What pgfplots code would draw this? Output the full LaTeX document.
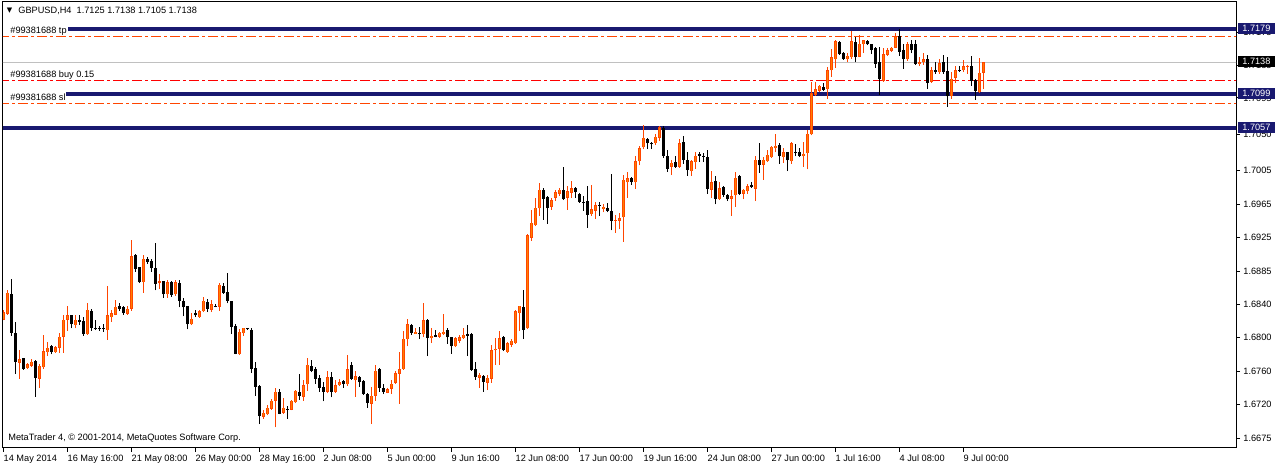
\documentclass[border=0pt]{standalone}
\usepackage{fontspec}
\setmainfont{Liberation Sans}
\newfontfamily\symfont{DejaVu Sans}
\usepackage{pgfplots}
\usepackage{pgfplotstable}
\pgfplotsset{compat=1.18}

\definecolor{navyline}{HTML}{191970}
\definecolor{upedge}{HTML}{FF4500}
\definecolor{upfill}{HTML}{FF8000}
\definecolor{tpsl}{HTML}{FF4500}
\definecolor{bidline}{HTML}{C0C0C0}

\newcommand{\mt}{\fontsize{4.6pt}{5.5pt}\selectfont}
% picture is 638x232pt, 1 screen pixel = 0.5pt
\newcommand{\px}[2]{({#1*0.5},{232-#2*0.5})}

% GBPUSD H4 candles, i = bar index
\pgfplotstableread{
i o h l c
0 1.6821 1.6833 1.6820 1.6830
1 1.6828 1.6857 1.6827 1.6854
2 1.6852 1.6871 1.6801 1.6805
3 1.6804 1.6818 1.6754 1.6769
4 1.6768 1.6783 1.6748 1.6772
5 1.6774 1.6774 1.6759 1.6760
6 1.6761 1.6768 1.6760 1.6766
7 1.6764 1.6772 1.6763 1.6769
8 1.6770 1.6771 1.6726 1.6749
9 1.6748 1.6766 1.6737 1.6764
10 1.6762 1.6802 1.6760 1.6782
11 1.6781 1.6793 1.6776 1.6786
12 1.6788 1.6790 1.6778 1.6781
13 1.6781 1.6788 1.6780 1.6787
14 1.6786 1.6804 1.6780 1.6800
15 1.6800 1.6827 1.6780 1.6821
16 1.6821 1.6838 1.6807 1.6826
17 1.6826 1.6827 1.6810 1.6815
18 1.6814 1.6826 1.6810 1.6821
19 1.6820 1.6826 1.6814 1.6818
20 1.6819 1.6824 1.6801 1.6803
21 1.6803 1.6841 1.6802 1.6833
22 1.6831 1.6834 1.6807 1.6811
23 1.6811 1.6821 1.6808 1.6809
24 1.6811 1.6813 1.6807 1.6810
25 1.6811 1.6816 1.6806 1.6810
26 1.6808 1.6862 1.6796 1.6826
27 1.6824 1.6833 1.6818 1.6829
28 1.6827 1.6845 1.6826 1.6837
29 1.6838 1.6841 1.6832 1.6834
30 1.6836 1.6838 1.6827 1.6829
31 1.6828 1.6838 1.6827 1.6834
32 1.6834 1.6919 1.6832 1.6899
33 1.6901 1.6902 1.6880 1.6883
34 1.6886 1.6886 1.6866 1.6867
35 1.6867 1.6901 1.6854 1.6896
36 1.6896 1.6898 1.6890 1.6892
37 1.6893 1.6896 1.6880 1.6884
38 1.6884 1.6915 1.6857 1.6865
39 1.6866 1.6877 1.6859 1.6868
40 1.6868 1.6869 1.6848 1.6852
41 1.6852 1.6870 1.6848 1.6867
42 1.6867 1.6868 1.6849 1.6851
43 1.6852 1.6870 1.6850 1.6867
44 1.6866 1.6870 1.6836 1.6844
45 1.6844 1.6847 1.6825 1.6836
46 1.6838 1.6838 1.6809 1.6815
47 1.6815 1.6829 1.6814 1.6822
48 1.6829 1.6833 1.6824 1.6826
49 1.6824 1.6833 1.6823 1.6831
50 1.6831 1.6849 1.6830 1.6844
51 1.6843 1.6846 1.6830 1.6834
52 1.6833 1.6845 1.6830 1.6840
53 1.6838 1.6840 1.6836 1.6837
54 1.6837 1.6866 1.6832 1.6864
55 1.6862 1.6866 1.6853 1.6854
56 1.6855 1.6878 1.6841 1.6844
57 1.6844 1.6844 1.6803 1.6812
58 1.6813 1.6815 1.6778 1.6779
59 1.6778 1.6809 1.6777 1.6806
60 1.6804 1.6811 1.6801 1.6811
61 1.6810 1.6811 1.6808 1.6809
62 1.6808 1.6810 1.6755 1.6760
63 1.6761 1.6769 1.6727 1.6738
64 1.6739 1.6740 1.6692 1.6702
65 1.6701 1.6709 1.6699 1.6706
66 1.6704 1.6716 1.6703 1.6712
67 1.6711 1.6723 1.6710 1.6721
68 1.6721 1.6737 1.6688 1.6732
69 1.6732 1.6736 1.6704 1.6705
70 1.6706 1.6724 1.6705 1.6712
71 1.6711 1.6715 1.6699 1.6710
72 1.6710 1.6722 1.6709 1.6721
73 1.6719 1.6734 1.6718 1.6733
74 1.6732 1.6754 1.6722 1.6727
75 1.6726 1.6746 1.6721 1.6740
76 1.6741 1.6774 1.6733 1.6765
77 1.6764 1.6771 1.6756 1.6758
78 1.6760 1.6763 1.6742 1.6748
79 1.6749 1.6753 1.6732 1.6737
80 1.6738 1.6744 1.6720 1.6732
81 1.6732 1.6758 1.6730 1.6750
82 1.6750 1.6756 1.6725 1.6732
83 1.6732 1.6746 1.6731 1.6740
84 1.6740 1.6748 1.6739 1.6744
85 1.6745 1.6746 1.6737 1.6742
86 1.6741 1.6777 1.6739 1.6760
87 1.6765 1.6769 1.6747 1.6748
88 1.6746 1.6758 1.6726 1.6751
89 1.6750 1.6752 1.6738 1.6744
90 1.6745 1.6747 1.6728 1.6729
91 1.6729 1.6730 1.6712 1.6718
92 1.6717 1.6738 1.6692 1.6727
93 1.6727 1.6765 1.6721 1.6758
94 1.6760 1.6761 1.6732 1.6737
95 1.6737 1.6742 1.6729 1.6732
96 1.6731 1.6737 1.6730 1.6735
97 1.6736 1.6747 1.6729 1.6742
98 1.6743 1.6758 1.6742 1.6755
99 1.6754 1.6781 1.6717 1.6760
100 1.6760 1.6807 1.6759 1.6797
101 1.6797 1.6822 1.6788 1.6815
102 1.6814 1.6815 1.6802 1.6805
103 1.6803 1.6811 1.6803 1.6806
104 1.6804 1.6812 1.6797 1.6803
105 1.6803 1.6841 1.6799 1.6820
106 1.6821 1.6822 1.6776 1.6798
107 1.6798 1.6810 1.6792 1.6801
108 1.6802 1.6808 1.6799 1.6800
109 1.6800 1.6806 1.6798 1.6805
110 1.6803 1.6828 1.6802 1.6806
111 1.6808 1.6811 1.6791 1.6799
112 1.6799 1.6800 1.6779 1.6788
113 1.6788 1.6799 1.6787 1.6798
114 1.6795 1.6802 1.6792 1.6799
115 1.6798 1.6811 1.6797 1.6802
116 1.6803 1.6814 1.6776 1.6801
117 1.6803 1.6804 1.6758 1.6759
118 1.6760 1.6769 1.6747 1.6750
119 1.6749 1.6755 1.6737 1.6753
120 1.6751 1.6753 1.6732 1.6744
121 1.6743 1.6753 1.6734 1.6749
122 1.6748 1.6789 1.6743 1.6783
123 1.6783 1.6798 1.6765 1.6785
124 1.6785 1.6807 1.6765 1.6798
125 1.6799 1.6801 1.6782 1.6783
126 1.6781 1.6793 1.6780 1.6792
127 1.6790 1.6797 1.6787 1.6795
128 1.6792 1.6833 1.6791 1.6831
129 1.6829 1.6838 1.6807 1.6838
130 1.6836 1.6857 1.6797 1.6808
131 1.6810 1.6927 1.6809 1.6925
132 1.6922 1.6956 1.6918 1.6940
133 1.6937 1.6971 1.6936 1.6959
134 1.6958 1.6989 1.6949 1.6981
135 1.6981 1.6983 1.6944 1.6970
136 1.6972 1.6973 1.6939 1.6958
137 1.6960 1.6971 1.6956 1.6968
138 1.6971 1.6980 1.6967 1.6978
139 1.6976 1.6983 1.6973 1.6981
140 1.6981 1.7009 1.6968 1.6969
141 1.6971 1.6986 1.6956 1.6979
142 1.6977 1.6992 1.6971 1.6983
143 1.6983 1.6984 1.6971 1.6978
144 1.6976 1.6977 1.6965 1.6966
145 1.6966 1.6973 1.6955 1.6965
146 1.6967 1.6985 1.6934 1.6950
147 1.6951 1.6987 1.6949 1.6957
148 1.6955 1.6966 1.6945 1.6962
149 1.6962 1.6966 1.6949 1.6961
150 1.6957 1.6963 1.6953 1.6960
151 1.6959 1.6964 1.6953 1.6955
152 1.6955 1.7000 1.6931 1.6943
153 1.6943 1.6950 1.6928 1.6944
154 1.6943 1.6952 1.6932 1.6946
155 1.6947 1.6999 1.6917 1.6993
156 1.6990 1.7003 1.6971 1.6995
157 1.6995 1.6997 1.6987 1.6991
158 1.6990 1.7023 1.6982 1.7016
159 1.7016 1.7035 1.7011 1.7032
160 1.7033 1.7061 1.7031 1.7045
161 1.7043 1.7045 1.7031 1.7038
162 1.7038 1.7040 1.7031 1.7037
163 1.7038 1.7049 1.7036 1.7046
164 1.7045 1.7059 1.7041 1.7058
165 1.7057 1.7060 1.7020 1.7023
166 1.7022 1.7030 1.7003 1.7007
167 1.7009 1.7017 1.6999 1.7014
168 1.7015 1.7022 1.7008 1.7009
169 1.7009 1.7044 1.7008 1.7038
170 1.7040 1.7047 1.7013 1.7018
171 1.7018 1.7027 1.6998 1.7005
172 1.7004 1.7018 1.6998 1.7016
173 1.7015 1.7027 1.7007 1.7023
174 1.7025 1.7028 1.7015 1.7023
175 1.7022 1.7026 1.7015 1.7021
176 1.7021 1.7030 1.6976 1.6982
177 1.6981 1.7004 1.6971 1.6990
178 1.6992 1.6998 1.6963 1.6970
179 1.6969 1.6990 1.6968 1.6983
180 1.6984 1.6985 1.6972 1.6975
181 1.6975 1.6976 1.6967 1.6969
182 1.6970 1.6981 1.6949 1.6973
183 1.6974 1.7003 1.6960 1.6996
184 1.6998 1.6999 1.6975 1.6976
185 1.6976 1.6982 1.6969 1.6981
186 1.6979 1.6988 1.6976 1.6985
187 1.6987 1.6990 1.6983 1.6984
188 1.6982 1.7022 1.6967 1.7018
189 1.7018 1.7039 1.7002 1.7011
190 1.7012 1.7021 1.6993 1.7018
191 1.7016 1.7030 1.7015 1.7024
192 1.7021 1.7035 1.7020 1.7034
193 1.7032 1.7050 1.7027 1.7035
194 1.7036 1.7039 1.7013 1.7022
195 1.7021 1.7032 1.7014 1.7027
196 1.7027 1.7028 1.7004 1.7017
197 1.7016 1.7040 1.7013 1.7038
198 1.7027 1.7037 1.7022 1.7026
199 1.7027 1.7032 1.7021 1.7023
200 1.7022 1.7040 1.7009 1.7025
201 1.7026 1.7055 1.7006 1.7050
202 1.7049 1.7114 1.7048 1.7100
203 1.7098 1.7114 1.7097 1.7105
204 1.7103 1.7110 1.7101 1.7109
205 1.7108 1.7113 1.7103 1.7104
206 1.7105 1.7132 1.7093 1.7128
207 1.7128 1.7154 1.7120 1.7144
208 1.7142 1.7165 1.7131 1.7164
209 1.7163 1.7164 1.7147 1.7148
210 1.7149 1.7151 1.7141 1.7142
211 1.7142 1.7150 1.7138 1.7146
212 1.7144 1.7177 1.7142 1.7164
213 1.7163 1.7169 1.7138 1.7144
214 1.7145 1.7171 1.7144 1.7161
215 1.7160 1.7166 1.7150 1.7165
216 1.7164 1.7165 1.7159 1.7160
217 1.7160 1.7161 1.7148 1.7153
218 1.7156 1.7157 1.7131 1.7136
219 1.7138 1.7157 1.7098 1.7117
220 1.7115 1.7156 1.7114 1.7148
221 1.7147 1.7155 1.7146 1.7153
222 1.7152 1.7157 1.7151 1.7156
223 1.7156 1.7174 1.7155 1.7170
224 1.7170 1.7179 1.7146 1.7151
225 1.7153 1.7160 1.7130 1.7142
226 1.7142 1.7163 1.7140 1.7160
227 1.7160 1.7165 1.7149 1.7153
228 1.7160 1.7165 1.7135 1.7136
229 1.7136 1.7145 1.7133 1.7138
230 1.7138 1.7149 1.7135 1.7142
231 1.7142 1.7147 1.7105 1.7113
232 1.7114 1.7132 1.7113 1.7128
233 1.7128 1.7138 1.7124 1.7126
234 1.7126 1.7142 1.7124 1.7137
235 1.7138 1.7147 1.7124 1.7126
236 1.7127 1.7144 1.7083 1.7096
237 1.7096 1.7126 1.7093 1.7118
238 1.7119 1.7133 1.7113 1.7128
239 1.7128 1.7133 1.7126 1.7127
240 1.7128 1.7141 1.7126 1.7133
241 1.7132 1.7135 1.7124 1.7133
242 1.7133 1.7146 1.7109 1.7115
243 1.7116 1.7118 1.7092 1.7102
244 1.7101 1.7143 1.7100 1.7125
245 1.7125 1.7138 1.7105 1.7138
}\candles

\pgfplotsset{candle/.style={draw=none, mark=none, forget plot,
  error bars/y dir=plus, error bars/y explicit, error bars/error mark=none}}

\begin{document}
\begin{tikzpicture}[x=1pt,y=1pt]
\useasboundingbox (0,0) rectangle (638,232);
\begin{axis}[
  at={(1.5pt,8pt)}, anchor=south west,
  scale only axis, width=616.5pt, height=223.25pt,
  xmin=-0.075, xmax=308.175, ymin=1.66627, ymax=1.72129,
  axis line style={line width=0.5pt},
  tick style={black, line width=0.5pt},
  tick align=outside, major tick length=2pt,
  xtick pos=bottom, ytick pos=right,
  xtick={0,16,...,240},
  xticklabels={14 May 2014,16 May 16:00,21 May 08:00,26 May 00:00,28 May 16:00,
    2 Jun 08:00,5 Jun 00:00,9 Jun 16:00,12 Jun 08:00,17 Jun 00:00,19 Jun 16:00,
    24 Jun 08:00,27 Jun 00:00,1 Jul 16:00,4 Jul 08:00,9 Jul 00:00},
  xticklabel style={font=\mt, anchor=north west, inner sep=0pt, yshift=-1.3pt},
  ytick={1.6675,1.671615,1.675731,1.679847,1.683963,1.688079,1.692194,1.69631,
    1.700426,1.7049,1.7094,1.71346,1.71747},
  yticklabels={1.6675,1.6720,1.6760,1.6800,1.6840,1.6885,1.6925,1.6965,
    1.7005,1.7050,1.7095,1.7135,1.7175},
  yticklabel style={font=\mt, anchor=west, inner sep=0pt, xshift=1.5pt},
  scaled y ticks=false,
]
% horizontal order lines
\addplot[bidline, line width=0.5pt, forget plot] coordinates {(-1,1.7138) (320,1.7138)};
\addplot[tpsl, line width=0.5pt, dash pattern=on 5pt off 1.5pt on 1.5pt off 1.5pt, forget plot]
  coordinates {(-1,1.7170) (320,1.7170)};
\addplot[red, line width=0.6pt, dash pattern=on 5pt off 1.5pt on 1.5pt off 1.5pt, forget plot]
  coordinates {(-1,1.7116) (320,1.7116)};
\addplot[tpsl, line width=0.5pt, dash pattern=on 5pt off 1.5pt on 1.5pt off 1.5pt, forget plot]
  coordinates {(-1,1.7087) (320,1.7087)};
\addplot[navyline, line width=1.7pt, forget plot] coordinates {(16.2,1.7179) (320,1.7179)};
\addplot[navyline, line width=1.7pt, forget plot] coordinates {(15.7,1.7099) (320,1.7099)};
\addplot[navyline, line width=1.7pt, forget plot] coordinates {(-1,1.7057) (320,1.7057)};

% wicks
\addplot[candle, restrict expr to domain={\thisrow{c}-\thisrow{o}}{0:1},
  error bars/error bar style={draw=upedge, line width=0.5pt}]
  table[x=i, y=l, y error plus expr=\thisrow{h}-\thisrow{l}] {\candles};
\addplot[candle, restrict expr to domain={\thisrow{o}-\thisrow{c}}{0.00001:1},
  error bars/error bar style={draw=black, line width=0.5pt}]
  table[x=i, y=l, y error plus expr=\thisrow{h}-\thisrow{l}] {\candles};
% bodies, bull
\addplot[candle, restrict expr to domain={\thisrow{c}-\thisrow{o}}{0:1},
  error bars/error bar style={draw=upedge, line width=1.5pt}]
  table[x=i, y=o, y error plus expr={max(\thisrow{c}-\thisrow{o},0.00007)}] {\candles};
\addplot[candle, restrict expr to domain={\thisrow{c}-\thisrow{o}}{0.0002:1},
  error bars/error bar style={draw=upfill, line width=0.55pt}]
  table[x=i, y expr=\thisrow{o}+0.00006, y error plus expr={\thisrow{c}-\thisrow{o}-0.00012}] {\candles};
% bodies, bear
\addplot[candle, restrict expr to domain={\thisrow{o}-\thisrow{c}}{0.00001:1},
  error bars/error bar style={draw=black, line width=1.5pt}]
  table[x=i, y=c, y error plus expr={max(\thisrow{o}-\thisrow{c},0.00007)}] {\candles};
\end{axis}

% price boxes on the right scale
\tikzset{pbox/.style={anchor=west, inner sep=0pt, minimum width=18.5pt,
  minimum height=5.6pt, text=white, font=\mt}}
\node[pbox, fill=navyline] at \px{1237.5}{28.8} {1.7179};
\node[pbox, fill=black] at \px{1237.5}{61.8} {1.7138};
\node[pbox, fill=navyline] at \px{1237.5}{93.6} {1.7099};
\node[pbox, fill=navyline] at \px{1237.5}{127.3} {1.7057};

% texts in the chart window
\node[anchor=west, inner sep=0pt, font=\symfont\fontsize{3.5pt}{4pt}\selectfont] at \px{6.5}{11} {▼};
\node[anchor=west, inner sep=0pt, font=\mt] at \px{18}{11} {GBPUSD,H4\ \ 1.7125 1.7138 1.7105 1.7138};
\node[anchor=base west, inner sep=0pt, font=\mt] at \px{10}{34} {\#99381688 tp};
\node[anchor=base west, inner sep=0pt, font=\mt] at \px{10}{77.5} {\#99381688 buy 0.15};
\node[anchor=base west, inner sep=0pt, font=\mt] at \px{10}{100.5} {\#99381688 sl};
\node[anchor=west, inner sep=0pt, font=\mt] at \px{8}{438} {MetaTrader 4, © 2001-2014, MetaQuotes Software Corp.};
\end{tikzpicture}
\end{document}
